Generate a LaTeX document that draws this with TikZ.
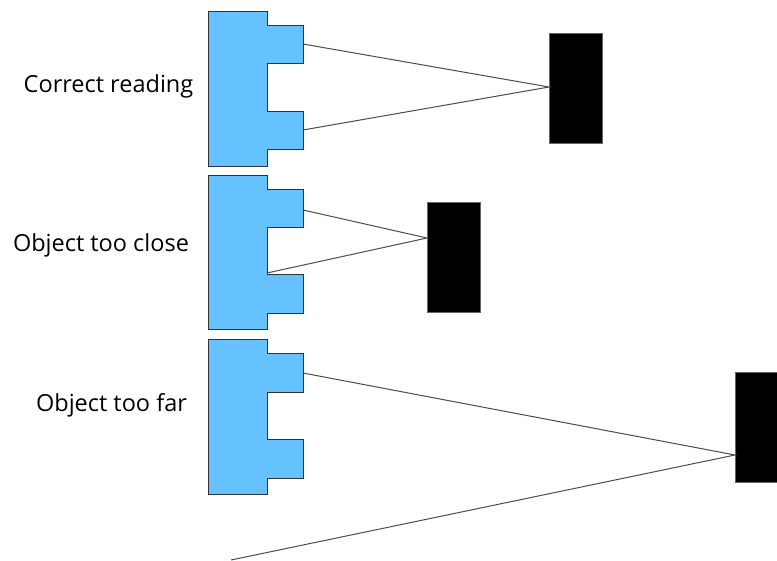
\documentclass[tikz,border=0pt]{standalone}
\usepackage{fontspec}
\setmainfont{Open Sans}
\begin{document}
\begin{tikzpicture}[x=1pt,y=-1pt,
  sensor/.style={fill=sensorblue,draw=black!80,line width=0.9pt,line join=miter},
  target/.style={fill=black,draw=black!60,line width=0.5pt,minimum width=53pt,minimum height=110pt,inner sep=0pt,anchor=north west},
  beam/.style={draw=black!70,line width=1pt},
  lbl/.style={anchor=base,inner sep=0pt,font=\fontsize{23.5}{28}\selectfont}]
\definecolor{sensorblue}{RGB}{102,194,255}
\useasboundingbox (0,0) rectangle (777,560);
% sensor shapes
\foreach \t/\a/\b/\c/\d/\bo/\n in {11/25/63/111/149/166/1, 175/189/227/274/313/329/2, 339/353/392/439/478/494/3}{
  \draw[sensor] (208,\t) -- (267,\t) -- (267,\a) -- (303,\a) -- (303,\b) -- (267,\b) -- (267,\c) -- (303,\c) -- (303,\d) -- (267,\d) -- (267,\bo) -- (208,\bo) -- cycle;
}
% targets
\node[target] (t1) at (549,33) {};
\node[target] (t2) at (427,202) {};
\node[target] (t3) at (735,372) {};
% beam endpoints
\coordinate (s1a) at (303,44);
\coordinate (s1b) at (303,130);
\coordinate (h1) at (549,87);
\coordinate (s2a) at (303,210);
\coordinate (s2b) at (267,273);
\coordinate (h2) at (427,238);
\coordinate (s3a) at (303,373);
\coordinate (s3b) at (231,560);
\coordinate (h3) at (735,455);
\draw[beam] (s1a) -- (h1) -- (s1b);
\draw[beam] (s2a) -- (h2) -- (s2b);
\draw[beam] (s3a) -- (h3) -- (s3b);
% labels
\node[lbl] (l1) at (108.5,92) {Correct reading};
\node[lbl] (l2) at (101,251) {Object too close};
\node[lbl] (l3) at (111.5,411) {Object too far};
\end{tikzpicture}
\end{document}
